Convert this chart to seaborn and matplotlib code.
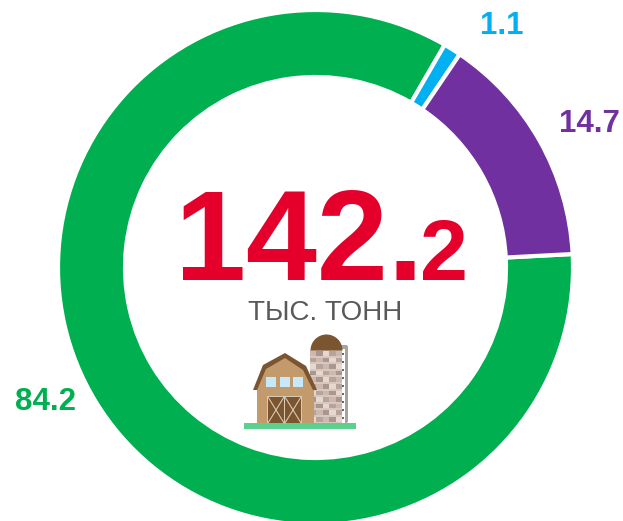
import matplotlib
matplotlib.use("Agg")
import matplotlib.pyplot as plt
import matplotlib.patches as mpatches
import seaborn as sns

# share of each group, clockwise from the right side
labels = ["84.2", "1.1", "14.7"]
values = [84.2, 1.1, 14.7]
colors = ["#00B050", "#00B0F0", "#7030A0"]
total_main = "142."
total_tail = "2"
unit = "ТЫС. ТОНН"

W, H = 623, 521
CX, CY, R = 315.5, 267.5, 257.5

sns.set_theme(style="white")
plt.rcParams["font.family"] = ["Liberation Sans", "DejaVu Sans"]

fig = plt.figure(figsize=(W / 100, H / 100), dpi=100)

# the ring gets its own axes, y going up
ring = fig.add_axes([0, 0, 1, 1])
ring.pie(values, colors=colors, radius=R, center=(CX, H - CY), startangle=3,
         counterclock=False, frame=True,
         wedgeprops=dict(width=67, edgecolor="white", linewidth=3))
ring.set_xlim(0, W)
ring.set_ylim(0, H)
ring.axis("off")

# everything else in picture pixels, y going down
ax = fig.add_axes([0, 0, 1, 1])
ax.set_xlim(0, W)
ax.set_ylim(H, 0)
ax.patch.set_alpha(0)
ax.axis("off")

ax.text(45, 402, labels[0], color=colors[0], fontsize=22.5, fontweight="bold", ha="center", va="center")
ax.text(502, 26, labels[1], color=colors[1], fontsize=22.5, fontweight="bold", ha="center", va="center")
ax.text(589, 124, labels[2], color=colors[2], fontsize=22.5, fontweight="bold", ha="center", va="center")

ax.text(175, 279.5, total_main, color="#E4002B", fontsize=92, fontweight="bold", ha="left", va="baseline")
ax.text(420, 279.5, total_tail, color="#E4002B", fontsize=62, fontweight="bold", ha="left", va="baseline")
ax.text(325, 313, unit, color="#595959", fontsize=20, ha="center", va="center")


def box(x, y, w, h, color, z=3):
    ax.add_patch(mpatches.Rectangle((x, y), w, h, facecolor=color, edgecolor="none", zorder=z))


# barn icon
box(244, 423, 112, 6, "#5CD08D", 6)

# silo
ax.add_patch(mpatches.FancyBboxPatch((338, 345), 10, 78, boxstyle="round,pad=0,rounding_size=2",
                                     facecolor="#A8A29E", edgecolor="none", zorder=2))
box(342, 349, 3, 74, "#FFFFFF", 3)
for tick in range(9):
    box(342, 353 + tick * 8, 2, 1.5, "#6F6660", 3)
box(310, 350, 32, 73, "#D9C6BC", 3)
brick_shades = ["#CDB8AE", "#B5A39C", "#E6D8CF", "#A79790"]
for row in range(11):
    for col in range(5):
        box(310 + col * 6.4, 351 + row * 6.6, 6.4, 4.5,
            brick_shades[(row + col * 3) % 4], 4)
ax.add_patch(mpatches.Wedge((326.5, 350.5), 16, 180, 360, facecolor="#7B5430", edgecolor="none", zorder=5))

# barn body and roof
ax.add_patch(mpatches.Polygon([(257, 389), (263, 366), (285, 354), (306, 367), (314, 389), (314, 423), (257, 423)],
                              facecolor="#C29A6B", edgecolor="none", zorder=5))
ax.add_patch(mpatches.Polygon([(253, 390), (263, 365), (285, 353), (306, 366), (317, 390),
                               (313, 390), (303, 370), (285, 358), (266, 369), (257, 390)],
                              facecolor="#7B5430", edgecolor="none", zorder=6))
for wx in (266, 280, 293):
    box(wx, 377, 10, 10, "#C5E8FA", 6)
box(267, 396, 35, 27, "#D9C8B4", 6)
box(268, 397, 16, 26, "#7B5430", 6)
box(285, 397, 16, 26, "#7B5430", 6)
for x0 in (268, 285):
    ax.plot([x0, x0 + 16], [397, 423], color="#D9C8B4", lw=0.8, zorder=7)
    ax.plot([x0 + 16, x0], [397, 423], color="#D9C8B4", lw=0.8, zorder=7)

fig.savefig("out.png", dpi=100, facecolor="white")
